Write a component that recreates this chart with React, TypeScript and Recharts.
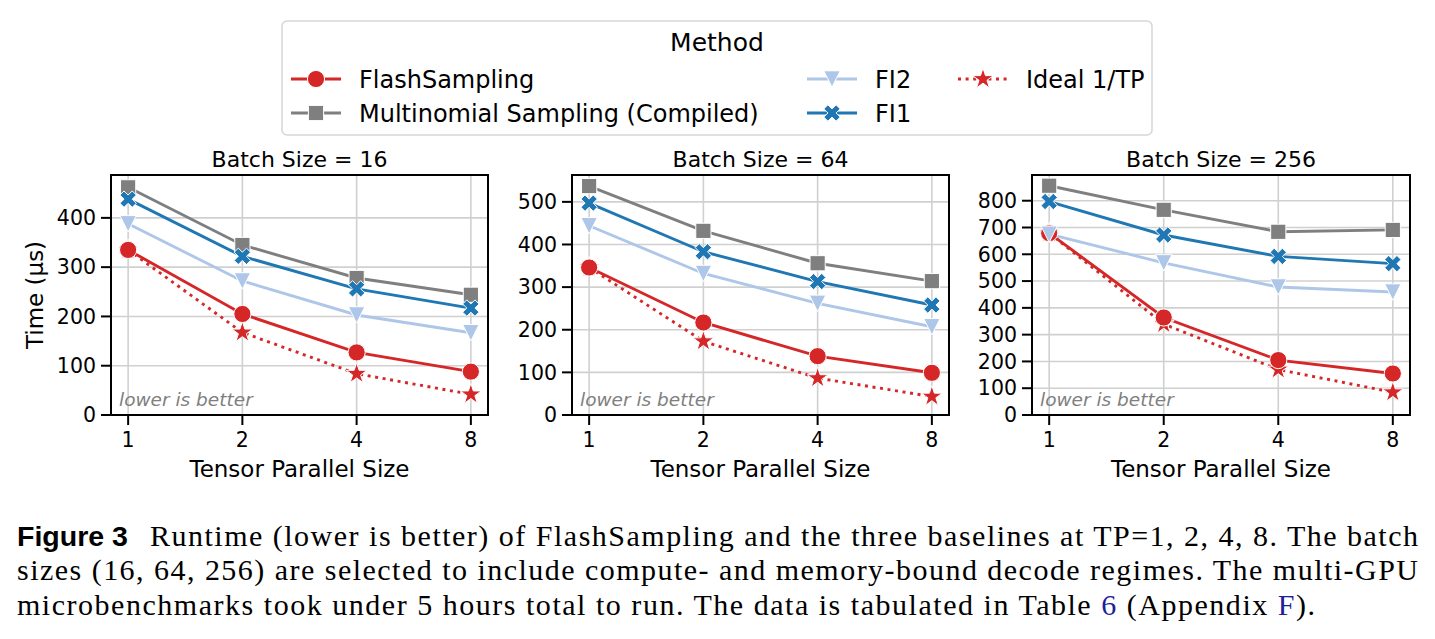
import React from 'react';
import { LineChart, Line, XAxis, YAxis, CartesianGrid, ReferenceArea } from 'recharts';

// Tensor-parallel sizes on the x axis (plotted as evenly spaced categories)
const TP_LABELS = ['1', '2', '4', '8'];
const TP_INDEX = [0, 1, 2, 3];

const BATCH_SIZES = [16, 64, 256];

// Runtime in microseconds, batch size 16
const FLASH_16 = [335, 205, 127, 88];
const MULTI_16 = [462, 345, 278, 244];
const FI2_16 = [388, 272, 203, 167];
const FI1_16 = [438, 322, 256, 217];
const IDEAL_16 = [335, 167.5, 83.8, 41.9];

// Runtime in microseconds, batch size 64
const FLASH_64 = [346, 217, 138, 99];
const MULTI_64 = [537, 432, 356, 314];
const FI2_64 = [444, 332, 262, 207];
const FI1_64 = [497, 383, 313, 258];
const IDEAL_64 = [346, 173, 86.5, 43.3];

// Runtime in microseconds, batch size 256
const FLASH_256 = [679, 364, 205, 155];
const MULTI_256 = [856, 766, 684, 691];
const FI2_256 = [675, 568, 478, 459];
const FI1_256 = [797, 672, 592, 565];
const IDEAL_256 = [679, 339.5, 169.8, 84.9];

const Y_TICKS_16 = [0, 100, 200, 300, 400];
const Y_TICKS_64 = [0, 100, 200, 300, 400, 500];
const Y_TICKS_256 = [0, 100, 200, 300, 400, 500, 600, 700, 800];

const SERIES = [
  { key: 'ideal', name: 'Ideal 1/TP', color: '#d62728', marker: 'star', dotted: true },
  { key: 'flash', name: 'FlashSampling', color: '#d62728', marker: 'circle', dotted: false },
  { key: 'multi', name: 'Multinomial Sampling (Compiled)', color: '#7f7f7f', marker: 'square', dotted: false },
  { key: 'fi2', name: 'FI2', color: '#aec7e8', marker: 'tri', dotted: false },
  { key: 'fi1', name: 'FI1', color: '#1f77b4', marker: 'x', dotted: false },
];

const buildRows = (flash: number[], multi: number[], fi2: number[], fi1: number[], ideal: number[]) =>
  TP_INDEX.map((i) => ({ idx: i, tp: TP_LABELS[i], flash: flash[i], multi: multi[i], fi2: fi2[i], fi1: fi1[i], ideal: ideal[i] }));

const PANELS = [
  { batch: BATCH_SIZES[0], rows: buildRows(FLASH_16, MULTI_16, FI2_16, FI1_16, IDEAL_16), ticks: Y_TICKS_16, yMax: 487, plotLeft: 111, plotWidth: 377 },
  { batch: BATCH_SIZES[1], rows: buildRows(FLASH_64, MULTI_64, FI2_64, FI1_64, IDEAL_64), ticks: Y_TICKS_64, yMax: 563, plotLeft: 572, plotWidth: 377 },
  { batch: BATCH_SIZES[2], rows: buildRows(FLASH_256, MULTI_256, FI2_256, FI1_256, IDEAL_256), ticks: Y_TICKS_256, yMax: 896, plotLeft: 1032, plotWidth: 378 },
];

const FONT = "'DejaVu Sans', sans-serif";
const SERIF = "'Liberation Serif', serif";
const PLOT_TOP = 175;
const PLOT_HEIGHT = 240;
const Y_AXIS_W = 100;
const TOP_PAD = 10;
const RIGHT_PAD = 10;
const X_AXIS_H = 50;
const LINE_W = 2.9;
const DOTS = '3 4.6';

const starPoints = (x: number, y: number, R: number) => {
  const r = R * 0.382;
  const pts: string[] = [];
  for (let k = 0; k < 10; k++) {
    const rad = k % 2 === 0 ? R : r;
    const a = -Math.PI / 2 + (k * Math.PI) / 5;
    pts.push(`${(x + rad * Math.cos(a)).toFixed(2)},${(y + rad * Math.sin(a)).toFixed(2)}`);
  }
  return pts.join(' ');
};

const PLUS = [[-1, -3], [1, -3], [1, -1], [3, -1], [3, 1], [1, 1], [1, 3], [-1, 3], [-1, 1], [-3, 1], [-3, -1], [-1, -1]];
const xPoints = (x: number, y: number, u: number) =>
  PLUS.map(([a, b]) => `${(x + ((a - b) / Math.SQRT2) * u).toFixed(2)},${(y + ((a + b) / Math.SQRT2) * u).toFixed(2)}`).join(' ');

function Marker({ kind, x, y, color }: { kind: string; x: number; y: number; color: string }) {
  const edge = { stroke: '#ffffff', strokeWidth: 1 };
  if (kind === 'circle') return <circle cx={x} cy={y} r={8.6} fill={color} {...edge} />;
  if (kind === 'square') return <rect x={x - 7.6} y={y - 7.6} width={15.2} height={15.2} fill={color} {...edge} />;
  if (kind === 'tri') {
    const h = 8.2;
    return <polygon points={`${x - h},${y - h} ${x + h},${y - h} ${x},${y + h}`} fill={color} {...edge} />;
  }
  if (kind === 'x') return <polygon points={xPoints(x, y, 2.9)} fill={color} {...edge} />;
  return <polygon points={starPoints(x, y, 11)} fill={color} {...edge} />;
}

const makeDot = (kind: string, color: string) => (props: any) => {
  const { cx, cy, index } = props;
  if (cx == null || cy == null) return <g key={`d-${index}`} />;
  return <Marker key={`d-${index}`} kind={kind} x={cx} y={cy} color={color} />;
};

function Panel({ panel }: { panel: (typeof PANELS)[number] }) {
  const width = Y_AXIS_W + panel.plotWidth + RIGHT_PAD;
  const height = TOP_PAD + PLOT_HEIGHT + X_AXIS_H;
  const tickStyle = { fill: '#000', fontSize: 20.5, fontFamily: FONT };
  const axisLine = { stroke: '#000', strokeWidth: 2 };
  return (
    <div style={{ position: 'absolute', left: panel.plotLeft - Y_AXIS_W, top: PLOT_TOP - TOP_PAD, width, height }}>
      <LineChart width={width} height={height} data={panel.rows} margin={{ top: TOP_PAD, right: RIGHT_PAD, bottom: 0, left: 0 }}>
        <CartesianGrid stroke="#d0d0d0" strokeWidth={1.6} />
        <XAxis
          dataKey="idx"
          type="number"
          domain={[-0.15, 3.15]}
          ticks={TP_INDEX}
          interval={0}
          allowDataOverflow
          tickFormatter={(v: number) => TP_LABELS[v]}
          height={X_AXIS_H}
          tickSize={10}
          tickMargin={7}
          axisLine={axisLine}
          tickLine={axisLine}
          tick={tickStyle}
        />
        <YAxis
          type="number"
          domain={[0, panel.yMax]}
          ticks={panel.ticks}
          interval={0}
          allowDataOverflow
          width={Y_AXIS_W}
          tickSize={10}
          tickMargin={5}
          axisLine={axisLine}
          tickLine={axisLine}
          tick={tickStyle}
        />
        {SERIES.map((s) => (
          <Line
            key={s.key}
            dataKey={s.key}
            name={s.name}
            type="linear"
            stroke={s.color}
            strokeWidth={LINE_W}
            strokeDasharray={s.dotted ? DOTS : undefined}
            dot={makeDot(s.marker, s.color)}
            activeDot={false}
            isAnimationActive={false}
          />
        ))}
        <ReferenceArea x1={-0.15} x2={3.15} y1={0} y2={panel.yMax} fill="none" stroke="#000" strokeWidth={2} ifOverflow="visible" />
      </LineChart>
    </div>
  );
}

// Legend layout: three columns, filled column by column
const LEGEND_ITEMS = [
  { key: 'flash', col: 0, row: 0 },
  { key: 'multi', col: 0, row: 1 },
  { key: 'fi2', col: 1, row: 0 },
  { key: 'fi1', col: 1, row: 1 },
  { key: 'ideal', col: 2, row: 0 },
];
const LEGEND_COL_X = [291, 807, 958];
const LEGEND_ROW_Y = [79, 113];

function Overlay() {
  const blue = '#1f1f96';
  return (
    <svg width={1435} height={639} style={{ position: 'absolute', left: 0, top: 0, pointerEvents: 'none' }}>
      {/* legend */}
      <rect x={282} y={21} width={870} height={114} rx={5} fill="#fff" stroke="#d6d6d6" strokeWidth={1.5} />
      <text x={717} y={51} textAnchor="middle" fontFamily={FONT} fontSize={25} fill="#000">Method</text>
      {LEGEND_ITEMS.map((it) => {
        const s = SERIES.find((q) => q.key === it.key)!;
        const x0 = LEGEND_COL_X[it.col];
        const y = LEGEND_ROW_Y[it.row];
        return (
          <g key={it.key}>
            <line x1={x0} x2={x0 + 50} y1={y} y2={y} stroke={s.color} strokeWidth={LINE_W} strokeDasharray={s.dotted ? DOTS : undefined} />
            <Marker kind={s.marker} x={x0 + 25} y={y} color={s.color} />
            <text x={x0 + 68} y={y + 8.7} fontFamily={FONT} fontSize={24} fill="#000">{s.name}</text>
          </g>
        );
      })}

      {/* titles, axis labels and annotations */}
      {PANELS.map((p) => {
        const cx = p.plotLeft + p.plotWidth / 2;
        return (
          <g key={p.batch}>
            <text x={cx} y={167} textAnchor="middle" fontFamily={FONT} fontSize={22} fill="#000">{`Batch Size = ${p.batch}`}</text>
            <text x={cx} y={477} textAnchor="middle" fontFamily={FONT} fontSize={23} fill="#000">Tensor Parallel Size</text>
            <text x={p.plotLeft + 8} y={406} fontFamily={FONT} fontStyle="italic" fontSize={18.5} fill="#808080">lower is better</text>
          </g>
        );
      })}
      <text x={43} y={295} transform="rotate(-90 43 295)" textAnchor="middle" fontFamily={FONT} fontSize={23} fill="#000">Time (µs)</text>

      {/* caption */}
      <text x={17} y={546} fontFamily="'Liberation Sans', Arial, sans-serif" fontWeight="bold" fontSize={27} textLength={111} lengthAdjust="spacingAndGlyphs" fill="#000">Figure 3</text>
      <text x={150} y={546} fontFamily={SERIF} fontSize={30} textLength={1268} lengthAdjust="spacing" fill="#000">Runtime (lower is better) of FlashSampling and the three baselines at TP=1, 2, 4, 8. The batch</text>
      <text x={17} y={580} fontFamily={SERIF} fontSize={30} textLength={1401} lengthAdjust="spacing" fill="#000">sizes (16, 64, 256) are selected to include compute- and memory-bound decode regimes. The multi-GPU</text>
      <text x={17} y={615} fontFamily={SERIF} fontSize={30} textLength={1298} lengthAdjust="spacing" fill="#000">
        microbenchmarks took under 5 hours total to run. The data is tabulated in Table <tspan fill={blue}>6</tspan> (Appendix <tspan fill={blue}>F</tspan>).
      </text>
    </svg>
  );
}

export default function App() {
  return (
    <div style={{ position: 'absolute', left: 0, top: 0, width: 1435, height: 639, background: '#fff', overflow: 'hidden' }}>
      {PANELS.map((p) => (
        <Panel key={p.batch} panel={p} />
      ))}
      <Overlay />
    </div>
  );
}
